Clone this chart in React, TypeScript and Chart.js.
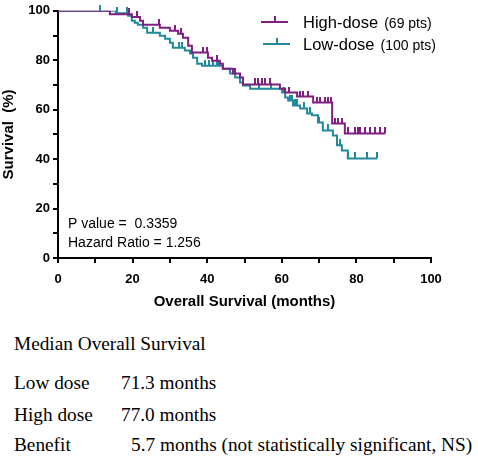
import React, { useEffect, useRef } from 'react';
import { Chart, registerables } from 'chart.js';
Chart.register(...registerables);

const SANS = '"Liberation Sans", Arial, Helvetica, sans-serif';
const SERIF = '"Liberation Serif", "Times New Roman", serif';
const PURPLE = '#7f1f82';
const TEAL = '#22899b';

// Kaplan-Meier step data (months, survival %)
const highTimes = [0, 13.9, 19.8, 22.0, 22.8, 27.3, 30.0, 32.2, 33.5, 34.9, 35.9, 40.2, 41.3, 43.4, 44.2, 46.9, 48.8, 49.6, 59.5, 60.9, 64.1, 68.4, 73.5, 76.9, 87.7];
const highSurv = [100, 98.6, 97.5, 96.0, 94.4, 93.1, 91.9, 90.7, 89.1, 85.9, 83.1, 81.0, 79.8, 78.6, 76.6, 74.6, 73.0, 70.2, 68.5, 66.9, 65.3, 62.9, 54.4, 50.4, 50.4];
const highCensor = [19.0, 21.2, 27.0, 31.5, 33.0, 38.9, 40.0, 42.5, 47.5, 52.8, 53.6, 54.7, 55.5, 56.8, 62.0, 64.9, 65.8, 67.0, 69.4, 70.2, 71.6, 72.4, 73.2, 74.3, 75.1, 76.1, 77.7, 79.6, 80.3, 81.0, 82.3, 83.6, 84.9, 86.2, 87.7];

const lowTimes = [0, 15.5, 18.8, 19.8, 20.6, 21.4, 22.8, 23.9, 27.3, 28.7, 30.0, 30.8, 34.0, 35.4, 36.2, 37.3, 38.6, 44.2, 46.1, 47.5, 48.8, 49.6, 51.5, 60.1, 60.9, 61.7, 63.0, 64.9, 66.8, 68.1, 69.7, 71.0, 73.7, 74.8, 76.1, 77.7, 85.5];
const lowSurv = [100, 99.0, 98.0, 96.0, 95.2, 94.4, 93.1, 91.1, 89.9, 88.7, 87.1, 85.1, 83.9, 82.7, 81.0, 78.6, 77.8, 76.6, 74.6, 73.0, 71.0, 69.8, 68.5, 66.9, 64.9, 63.7, 61.7, 60.5, 58.5, 57.7, 54.8, 51.6, 49.6, 45.6, 43.5, 40.3, 40.3];
const lowCensor = [11.3, 15.8, 18.5, 25.5, 32.5, 33.2, 39.5, 40.5, 41.5, 42.5, 43.2, 54.0, 57.0, 60.5, 62.3, 62.8, 63.5, 64.0, 66.0, 67.5, 70.0, 72.3, 75.5, 77.7, 79.6, 82.8, 85.5];

const xTicks = [0, 20, 40, 60, 80, 100];
const yTicks = [0, 20, 40, 60, 80, 100];

const legendItems = [
  { name: 'High-dose', note: '(69 pts)', color: PURPLE },
  { name: 'Low-dose', note: '(100 pts)', color: TEAL },
];
const statLines = ['P value =  0.3359', 'Hazard Ratio = 1.256'];

const medianTitle = 'Median Overall Survival';
const medianRows = [
  { label: 'Low dose', value: '71.3 months' },
  { label: 'High dose', value: '77.0 months' },
  { label: 'Benefit', value: '5.7 months (not statistically significant, NS)' },
];

function kmAt(times: number[], surv: number[], t: number) {
  let s = surv[0];
  for (let i = 0; i < times.length; i++) if (times[i] <= t) s = surv[i];
  return s;
}

function tickImage(color: string) {
  const c = document.createElement('canvas');
  c.width = 2;
  c.height = 12;
  const ctx = c.getContext('2d')!;
  ctx.fillStyle = color;
  ctx.fillRect(0, 0, 2, 6);
  return c;
}

export default function App() {
  const ref = useRef<HTMLCanvasElement | null>(null);
  useEffect(() => {
    const canvas = ref.current!;
    const overlay = {
      id: 'overlay',
      afterDraw(chart: any) {
        const ctx = chart.ctx;
        ctx.save();
        legendItems.forEach((it, i) => {
          const y = 22 + i * 22;
          const x0 = 261 + i * 2;
          ctx.strokeStyle = it.color;
          ctx.lineWidth = 2;
          ctx.beginPath();
          ctx.moveTo(x0, y);
          ctx.lineTo(x0 + 27, y);
          ctx.moveTo(x0 + 14, y);
          ctx.lineTo(x0 + 14, y - 6);
          ctx.stroke();
          ctx.fillStyle = '#000';
          ctx.textBaseline = 'alphabetic';
          ctx.font = '16.5px ' + SANS;
          const tx = 303;
          ctx.fillText(it.name, tx, 28 + i * 22);
          const w = ctx.measureText(it.name).width;
          ctx.font = '14px ' + SANS;
          ctx.fillText(it.note, tx + w + 6, 28 + i * 22);
        });
        ctx.font = '14px ' + SANS;
        ctx.fillStyle = '#000';
        statLines.forEach((s, i) => ctx.fillText(s, 68, 228 + i * 19));
        ctx.restore();
      },
    };
    const axisCommon = (title: string, ticks: number[], pad: number) => ({
      type: 'linear' as const,
      min: 0,
      max: 100,
      ticks: {
        stepSize: 10,
        autoSkip: false,
        color: '#000',
        font: { family: SANS, size: 13, weight: 'bold' as const },
        callback: (v: any) => (ticks.includes(v) ? String(v) : ''),
        padding: pad,
      },
      grid: { drawOnChartArea: false, drawTicks: true, tickLength: 5, color: '#000', lineWidth: 2 },
      border: { display: true, color: '#000', width: 2 },
      title: {
        display: true,
        text: title,
        color: '#000',
        padding: { top: 0, bottom: 0 },
        font: { family: SANS, size: 15, weight: 'bold' as const },
      },
    });
    const chart = new Chart(canvas, {
      type: 'scatter',
      data: {
        datasets: [
          {
            label: 'High-dose',
            data: highTimes.map((t, i) => ({ x: t, y: highSurv[i] })),
            showLine: true,
            stepped: 'before',
            borderColor: PURPLE,
            borderWidth: 2,
            pointRadius: 0,
            order: 0,
          },
          {
            label: 'High-dose censored',
            data: highCensor.map((t) => ({ x: t, y: kmAt(highTimes, highSurv, t) })),
            pointStyle: tickImage(PURPLE),
            pointRadius: 3,
            clip: false,
            order: 0,
          },
          {
            label: 'Low-dose',
            data: lowTimes.map((t, i) => ({ x: t, y: lowSurv[i] })),
            showLine: true,
            stepped: 'before',
            borderColor: TEAL,
            borderWidth: 2,
            pointRadius: 0,
            order: 1,
          },
          {
            label: 'Low-dose censored',
            data: lowCensor.map((t) => ({ x: t, y: kmAt(lowTimes, lowSurv, t) })),
            pointStyle: tickImage(TEAL),
            pointRadius: 3,
            clip: false,
            order: 1,
          },
        ] as any,
      },
      options: {
        animation: false,
        responsive: false,
        layout: { padding: { top: 10, right: 47, left: 0, bottom: 0 } },
        plugins: { legend: { display: false }, tooltip: { enabled: false } },
        scales: {
          x: {
            ...axisCommon('Overall Survival (months)', xTicks, 9),
            afterFit: (s: any) => { s.height = 53; },
          },
          y: {
            ...axisCommon('Survival  (%)', yTicks, 3),
            afterFit: (s: any) => { s.width = 58; },
          },
        } as any,
      },
      plugins: [overlay],
    });
    return () => chart.destroy();
  }, []);

  const textStyle = { position: 'absolute' as const, font: `19.3px ${SERIF}`, lineHeight: '20px', whiteSpace: 'nowrap' as const };
  const rowTops = [372.5, 405, 435];
  return (
    <div style={{ position: 'absolute', left: 0, top: 0, width: 478, height: 456, background: '#fff' }}>
      <canvas ref={ref} width={478} height={311} style={{ position: 'absolute', left: 0, top: 0 }} />
      <div style={{ ...textStyle, left: 14, top: 334 }}>{medianTitle}</div>
      {medianRows.map((r, i) => (
        <React.Fragment key={r.label}>
          <div style={{ ...textStyle, left: 14, top: rowTops[i] }}>{r.label}</div>
          <div style={{ ...textStyle, left: i === 2 ? 131 : 121, top: rowTops[i] }}>{r.value}</div>
        </React.Fragment>
      ))}
    </div>
  );
}
